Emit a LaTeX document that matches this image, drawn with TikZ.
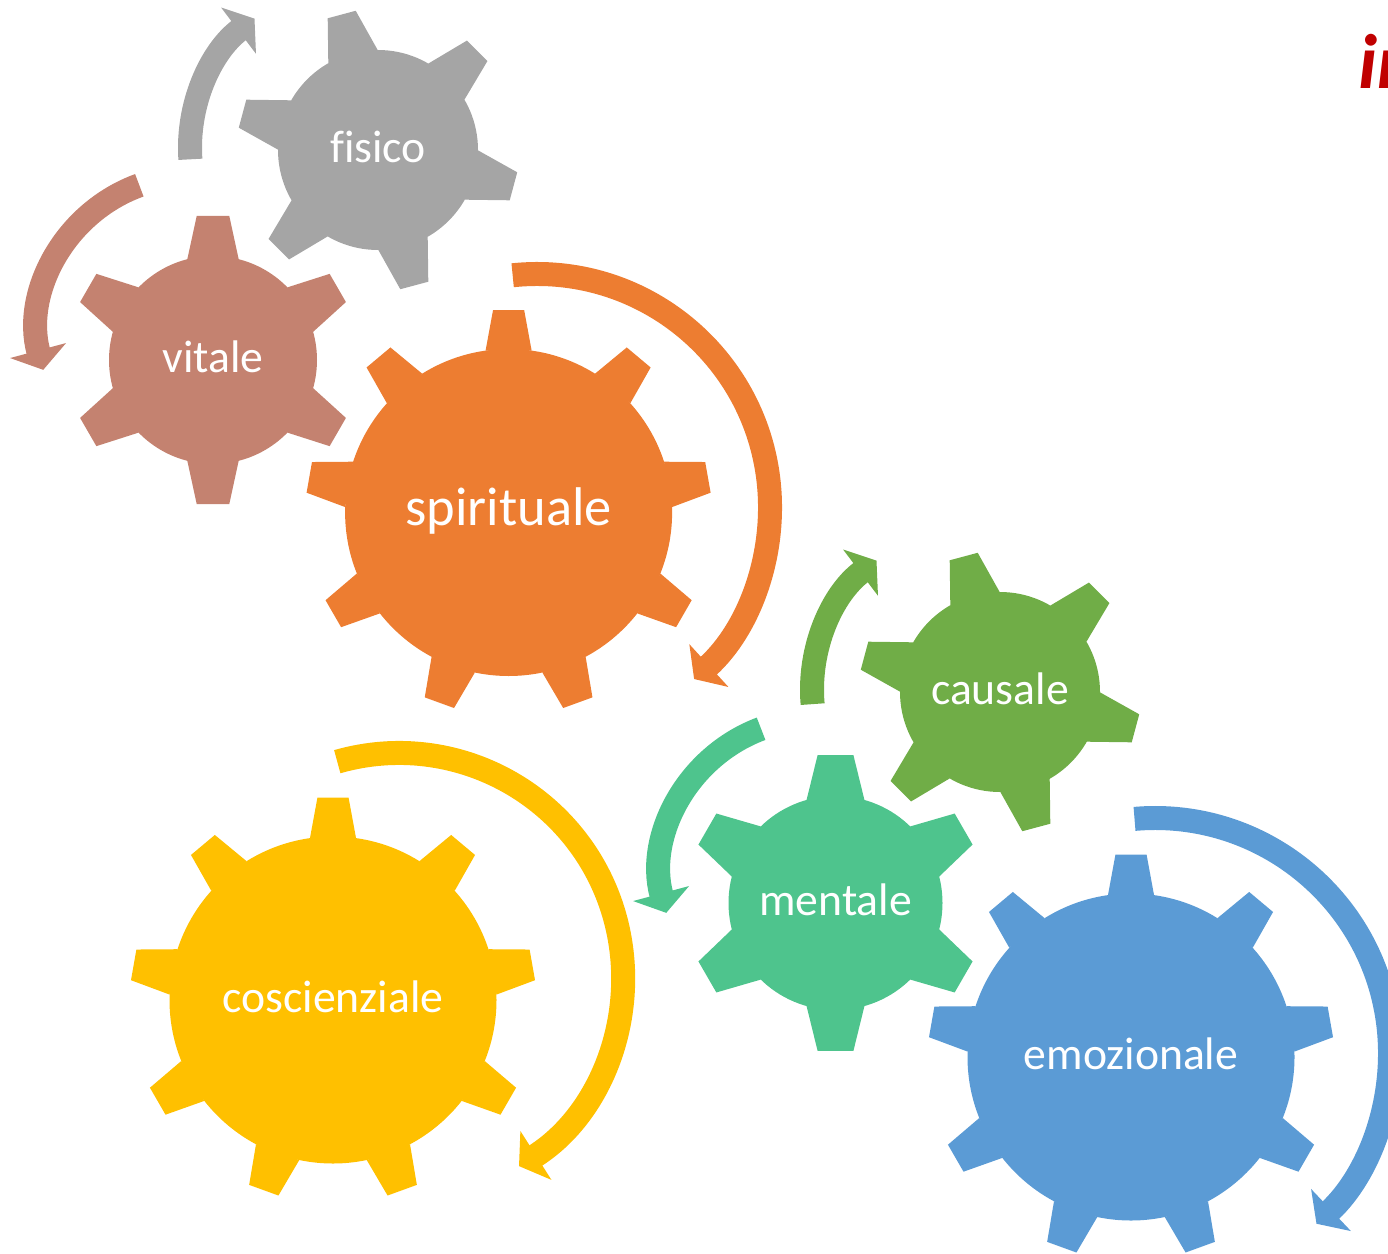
\documentclass[tikz,border=0pt]{standalone}
\usepackage{fontspec}
\setmainfont{Carlito}[Ligatures=NoCommon]
\usetikzlibrary{arrows.meta}
\definecolor{fisicogray}{HTML}{A5A5A5}
\definecolor{vitalerose}{HTML}{C48270}
\definecolor{spiritorange}{HTML}{ED7D31}
\definecolor{coscyellow}{HTML}{FFC000}
\definecolor{causgreen}{HTML}{70AD47}
\definecolor{mentmint}{HTML}{4EC48D}
\definecolor{emoblue}{HTML}{5B9BD5}
\definecolor{titlered}{HTML}{C00000}

% gear: centre, body radius, tip radius, half angle base, half angle tip, teeth, colour
\newcommand{\drawgear}[7]{%
  \fill[#7] (#1) circle[radius=#2];
  \foreach \a in {#6}
    \fill[#7] ([shift={(\a-#4:#2)}]#1) -- ([shift={(\a-#5:#3)}]#1)
      -- ([shift={(\a+#5:#3)}]#1) -- ([shift={(\a+#4:#2)}]#1) -- cycle;
}

\begin{document}
\begin{tikzpicture}[x=0.02cm,y=-0.02cm]
	\tikzstyle{gname}=[text=white, inner sep=0pt, font=\fontsize{26}{30}\selectfont, text height=19.5pt, text depth=4.9pt]
	\tikzstyle{bigname}=[gname, font=\fontsize{31}{36}\selectfont, text height=20.5pt, text depth=5.8pt]
	\tikzstyle{spin}=[line width=0.48cm, -{Triangle[width=1.14cm,length=0.4cm]}]
	\useasboundingbox (0,0) rectangle (1388,1253);

	\coordinate (cF) at (378,150);
	\coordinate (cV) at (213,360);
	\coordinate (cS) at (508.6,512.5);
	\coordinate (cC) at (1000,692);
	\coordinate (cM) at (835.5,903);
	\coordinate (cK) at (333,1000);
	\coordinate (cE) at (1131,1057);

	\drawgear{cF}{100}{141}{14.8}{5.9}{15,75,...,315}{fisicogray}
	\drawgear{cV}{104}{145}{14.3}{6.45}{-90,-30,...,210}{vitalerose}
	\drawgear{cS}{163.5}{203}{8.1}{4.4}{-90,-50,...,230}{spiritorange}
	\drawgear{cC}{100}{141}{14.8}{5.9}{15,75,...,315}{causgreen}
	\drawgear{cM}{107}{149}{15.7}{6.9}{-90,-30,...,210}{mentmint}
	\drawgear{cK}{163.5}{203}{8.1}{4.4}{-90,-50,...,230}{coscyellow}
	\drawgear{cE}{163.5}{203}{8.1}{4.4}{-90,-50,...,230}{emoblue}

	% centres of the arrows
	\coordinate (aF) at (352,148);
	\coordinate (aV) at (192,330);
	\coordinate (aS) at (537,507);
	\coordinate (aC) at (974,690);
	\coordinate (aM) at (815,873);
	\coordinate (aK) at (399,977);
	\coordinate (aE) at (1155,1053);

	\draw[spin, fisicogray] ([shift={(176:162)}]aF) arc[start angle=176, end angle=233, radius=162];
	\draw[spin, vitalerose] ([shift={(250:154)}]aV) arc[start angle=250, end angle=165, radius=154];
	\draw[spin, spiritorange] ([shift={(-96:233)}]aS) arc[start angle=-96, end angle=47.6, radius=233];
	\draw[spin, causgreen] ([shift={(175:162)}]aC) arc[start angle=175, end angle=233, radius=162];
	\draw[spin, mentmint] ([shift={(249.5:154)}]aM) arc[start angle=249.5, end angle=165, radius=154];
	\draw[spin, coscyellow] ([shift={(-106:224)}]aK) arc[start angle=-106, end angle=57.6, radius=224];
	\draw[spin, emoblue] ([shift={(-95:235)}]aE) arc[start angle=-95, end angle=46.6, radius=235];

	\node[gname] (fisico) at (cF) {fisico};
	\node[gname] (vitale) at (cV) {vitale};
	\node[bigname] (spirituale) at (cS) {spirituale};
	\node[gname] (causale) at (cC) {causale};
	\node[gname] (mentale) at (cM) {mentale};
	\node[gname] (coscienziale) at (cK) {coscienziale};
	\node[gname] (emozionale) at (cE) {emozionale};

	\node[anchor=base west, inner sep=0pt, text=titlered, font=\fontsize{44}{50}\selectfont\bfseries\itshape] (titolo) at (1358,89) {in};
\end{tikzpicture}
\end{document}
